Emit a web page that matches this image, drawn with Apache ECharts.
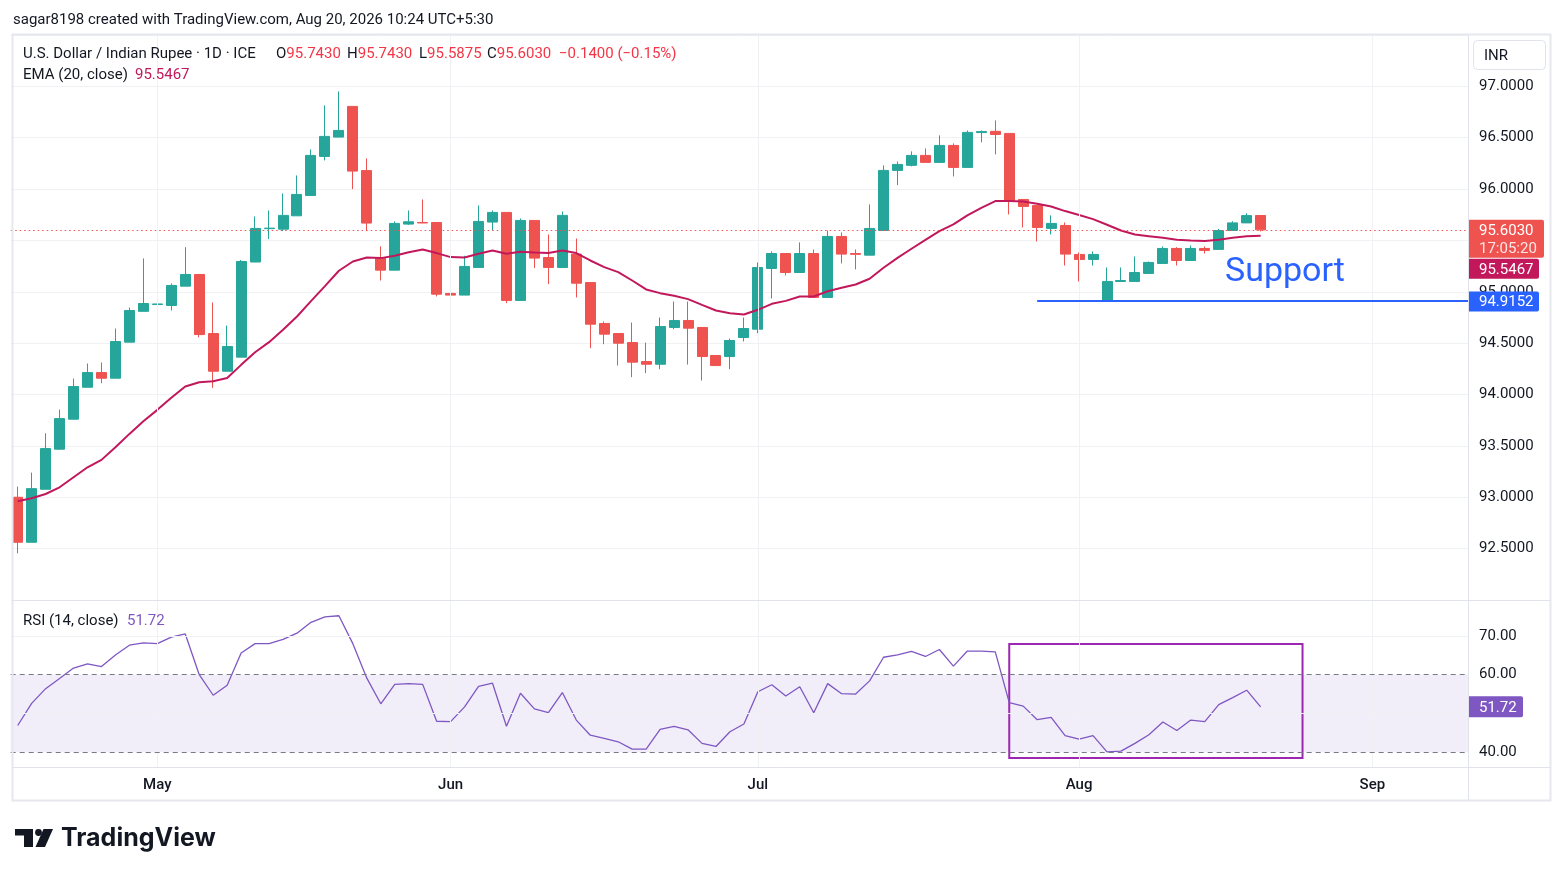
<!DOCTYPE html>
<html><head><meta charset="utf-8">
<script src="https://cdn.jsdelivr.net/npm/echarts@6/dist/echarts.min.js"></script>
<style>html,body{margin:0;padding:0;background:#fff;}#c{width:1563px;height:877px;}</style>
</head><body><div id="c"></div>
<script>
const dates = [
'2026-04-17','2026-04-20','2026-04-21','2026-04-22','2026-04-23','2026-04-24','2026-04-27','2026-04-28','2026-04-29','2026-04-30',
'2026-05-01','2026-05-04','2026-05-05','2026-05-06','2026-05-07','2026-05-08','2026-05-11','2026-05-12','2026-05-13','2026-05-14','2026-05-15','2026-05-18','2026-05-19','2026-05-20','2026-05-21','2026-05-22','2026-05-25','2026-05-26','2026-05-27','2026-05-28','2026-05-29',
'2026-06-01','2026-06-02','2026-06-03','2026-06-04','2026-06-05','2026-06-08','2026-06-09','2026-06-10','2026-06-11','2026-06-12','2026-06-15','2026-06-16','2026-06-17','2026-06-18','2026-06-19','2026-06-22','2026-06-23','2026-06-24','2026-06-25','2026-06-26','2026-06-29','2026-06-30',
'2026-07-01','2026-07-02','2026-07-03','2026-07-06','2026-07-07','2026-07-08','2026-07-09','2026-07-10','2026-07-13','2026-07-14','2026-07-15','2026-07-16','2026-07-17','2026-07-20','2026-07-21','2026-07-22','2026-07-23','2026-07-24','2026-07-27','2026-07-28','2026-07-29','2026-07-30','2026-07-31',
'2026-08-03','2026-08-04','2026-08-05','2026-08-06','2026-08-07','2026-08-10','2026-08-11','2026-08-12','2026-08-13','2026-08-14','2026-08-17','2026-08-18','2026-08-19','2026-08-20',
'2026-08-21','2026-08-24','2026-08-25','2026-08-26','2026-08-27','2026-08-28','2026-08-31',
'2026-09-01','2026-09-02','2026-09-03','2026-09-04','2026-09-07','2026-09-08','2026-09-09','2026-09-10'];

const opens = [93.000,92.562,93.078,93.468,93.760,94.071,94.214,94.159,94.510,94.810,
94.876,94.867,95.055,95.169,94.594,94.227,94.364,95.290,95.615,95.610,
95.740,95.938,96.318,96.506,96.805,96.180,95.334,95.211,95.659,95.675,
95.675,94.984,94.968,95.237,95.679,95.773,94.916,95.695,95.334,95.237,
95.367,95.090,94.692,94.594,94.506,94.321,94.295,94.653,94.721,94.653,
94.380,94.370,94.555,94.636,95.227,95.373,95.188,95.373,94.945,95.539,
95.373,95.357,95.597,96.182,96.231,96.328,96.260,96.425,96.211,96.550,
96.562,96.542,95.899,95.841,95.617,95.646,95.364,95.315,94.915,95.101,
95.101,95.179,95.276,95.422,95.305,95.422,95.413,95.597,95.671,95.743];

const highs = [93.104,93.240,93.623,93.854,94.156,94.302,94.312,94.643,94.847,95.325,
94.896,95.081,95.435,95.169,94.896,94.672,95.310,95.734,95.792,95.958,
96.133,96.386,96.815,96.951,96.805,96.299,95.442,95.685,95.792,95.899,
95.675,95.149,95.351,95.841,95.792,95.773,95.714,95.695,95.558,95.782,
95.519,95.090,94.711,94.594,94.701,94.506,94.750,94.906,94.906,94.653,
94.380,94.545,94.750,95.286,95.393,95.373,95.481,95.412,95.597,95.578,
95.412,95.851,96.231,96.269,96.367,96.396,96.523,96.445,96.571,96.571,
96.669,96.542,95.900,95.841,95.744,95.675,95.383,95.393,95.237,95.237,
95.344,95.295,95.442,95.435,95.451,95.442,95.613,95.687,95.765,95.743];

const lows = [92.455,92.562,93.078,93.460,93.760,94.071,94.110,94.159,94.510,94.810,
94.875,94.818,95.055,94.558,94.065,94.227,94.364,95.290,95.513,95.591,
95.740,95.938,96.279,96.506,96.000,95.591,95.110,95.211,95.650,95.669,
94.955,94.753,94.968,95.237,95.597,94.890,94.916,95.231,95.075,95.237,
94.945,94.451,94.490,94.282,94.169,94.208,94.247,94.636,94.292,94.136,
94.280,94.247,94.516,94.597,94.935,95.159,95.188,94.945,94.945,95.276,
95.218,95.357,95.597,96.039,96.221,96.260,96.260,96.123,96.211,96.455,
96.338,95.753,95.627,95.490,95.558,95.256,95.101,95.256,94.915,95.100,
95.100,95.179,95.276,95.256,95.305,95.373,95.410,95.597,95.671,95.5875];

const closes = [92.562,93.084,93.474,93.766,94.078,94.214,94.159,94.516,94.818,94.886,
94.882,95.062,95.169,94.584,94.227,94.468,95.295,95.617,95.620,95.744,
95.948,96.328,96.513,96.571,96.175,95.669,95.211,95.666,95.682,95.670,
94.977,94.968,95.247,95.685,95.773,94.916,95.695,95.328,95.237,95.744,
95.084,94.685,94.588,94.500,94.315,94.295,94.662,94.721,94.646,94.370,
94.282,94.526,94.643,95.237,95.373,95.188,95.373,94.945,95.539,95.367,
95.365,95.617,96.182,96.240,96.328,96.260,96.425,96.211,96.552,96.560,
96.532,95.890,95.831,95.627,95.666,95.367,95.315,95.364,95.101,95.110,
95.188,95.286,95.422,95.305,95.422,95.403,95.597,95.671,95.742,95.603];

const ema20 = [92.961,92.990,93.032,93.097,93.195,93.292,93.364,93.487,93.617,93.740,
93.851,93.968,94.078,94.120,94.130,94.162,94.289,94.412,94.510,94.630,
94.760,94.909,95.055,95.205,95.295,95.334,95.328,95.351,95.386,95.412,
95.377,95.338,95.334,95.370,95.403,95.370,95.390,95.383,95.377,95.403,
95.377,95.305,95.240,95.192,95.110,95.023,94.987,94.961,94.929,94.873,
94.818,94.792,94.779,94.825,94.883,94.912,94.955,94.955,95.006,95.039,
95.071,95.127,95.234,95.331,95.419,95.506,95.591,95.656,95.744,95.818,
95.883,95.883,95.880,95.857,95.831,95.786,95.747,95.708,95.653,95.597,
95.558,95.542,95.526,95.506,95.500,95.495,95.506,95.526,95.542,95.5467];

const rsi14 = [46.9,52.6,56.4,59.0,61.7,62.8,62.1,65.1,67.6,68.2,
68.0,69.7,70.5,60.0,54.7,57.3,65.6,68.0,68.0,69.1,
70.7,73.5,74.9,75.2,68.0,59.1,52.5,57.5,57.7,57.5,
48.0,47.9,51.7,57.0,57.8,46.7,55.2,51.2,50.2,55.4,
48.3,44.4,43.6,42.7,40.8,40.8,45.9,46.7,45.8,42.3,
41.5,45.3,47.3,55.6,57.4,54.5,56.9,50.2,57.7,55.1,
55.0,58.4,64.5,65.1,66.0,64.7,66.5,62.2,66.1,66.1,
65.9,52.8,51.9,48.4,49.0,44.3,43.4,44.3,40.1,40.3,
42.3,44.5,47.8,45.6,48.3,47.9,52.3,54.1,56.0,51.72];

const monthLabels = {'2026-05-01':'May','2026-06-01':'Jun','2026-07-01':'Jul','2026-08-03':'Aug','2026-09-01':'Sep'};
const priceTicks = {min:92, max:97.5, step:0.5};
const rsiTicks = [40,50,60,70];
const rsiBand = [40,60];
const supportLevel = 94.9152;
const supportFrom = '2026-07-29';
const supportTo = '2026-09-10';
const rsiBox = {from:'2026-07-27', to:'2026-08-25', low:38.5, high:67.9};
const lastClose = 95.6030, lastEma = 95.5467, lastRsi = 51.72;
const countdown = '17:05:20';

const FONT = 'Roboto, "Noto Sans", "DejaVu Sans", sans-serif';
const candleData = opens.map((o,i)=>[o, closes[i], lows[i], highs[i]]);
const monthStarts = Object.keys(monthLabels);

const chart = echarts.init(document.getElementById('c'), null, {renderer:'canvas'});
const GRID_L = 10.7, GRID_R = 1563-1477.1;
const gridLineColor = '#eff1f5';

chart.setOption({
  animation:false,
  backgroundColor:'#ffffff',
  grid:[
    {left:GRID_L, right:GRID_R, top:35, height:565},
    {left:GRID_L, right:GRID_R, top:601, height:166}
  ],
  xAxis:[
    {type:'category', gridIndex:0, data:dates, boundaryGap:true,
     axisLine:{show:false}, axisTick:{show:false}, axisLabel:{show:false}, splitLine:{show:false}},
    {type:'category', gridIndex:1, data:dates, boundaryGap:true,
     axisLine:{show:false}, axisTick:{show:false}, splitLine:{show:false},
     axisLabel:{show:true, interval:(i,v)=>!!monthLabels[v], formatter:v=>monthLabels[v]||'',
       color:'#131722', fontSize:15, fontWeight:500, fontFamily:FONT, margin:11}}
  ],
  yAxis:[
    {type:'value', gridIndex:0, position:'right', min:priceTicks.min, max:priceTicks.max, interval:priceTicks.step,
     axisLine:{show:false}, axisTick:{show:false},
     axisLabel:{formatter:v=>v.toFixed(4), color:'#131722', fontSize:15, fontFamily:FONT, margin:2, padding:[3,0,0,0], showMinLabel:false, showMaxLabel:false},
     splitLine:{show:true, lineStyle:{color:gridLineColor, width:1}}},
    {type:'value', gridIndex:1, position:'right', min:36.2, max:79,
     axisLine:{show:false}, axisTick:{show:false, customValues:rsiTicks},
     axisLabel:{customValues:rsiTicks, formatter:v=>v.toFixed(2), color:'#131722', fontSize:15, fontFamily:FONT, margin:2, padding:[2,0,0,0]},
     splitLine:{show:false}}
  ],
  series:[
    {type:'line', xAxisIndex:0, yAxisIndex:0, data:[], z:1, silent:true,
     markLine:{symbol:'none', silent:true, label:{show:false}, animation:false,
       lineStyle:{color:gridLineColor, width:1, type:'solid'},
       data: monthStarts.map(d=>({xAxis:d}))}},
    {type:'line', xAxisIndex:1, yAxisIndex:1, data:[], z:1, silent:true,
     markLine:{symbol:'none', silent:true, label:{show:false}, animation:false,
       lineStyle:{color:gridLineColor, width:1, type:'solid'},
       data: monthStarts.map(d=>({xAxis:d})).concat([{yAxis:50},{yAxis:70}])},
     markArea:{silent:true, itemStyle:{color:'rgba(126,87,194,0.1)'},
       data:[[{yAxis:rsiBand[0]},{yAxis:rsiBand[1]}]]}},
    {type:'candlestick', name:'USDINR', xAxisIndex:0, yAxisIndex:0, data:candleData, barWidth:10.5, z:3,
     itemStyle:{color:'#26a69a', color0:'#ef5350', borderColor:'#26a69a', borderColor0:'#ef5350', borderWidth:1},
     markLine:{symbol:'none', silent:true, label:{show:false}, animation:false,
       data:[
         {yAxis:lastClose, lineStyle:{color:'#ef5350', width:1, type:[1.5,3]}},
         [{coord:[supportFrom, supportLevel], lineStyle:{color:'#2962ff', width:2, type:'solid'}},
          {coord:[supportTo, supportLevel]}]
       ]}},
    {type:'line', name:'EMA', xAxisIndex:0, yAxisIndex:0, data:ema20, z:4, symbol:'none', showSymbol:false,
     lineStyle:{color:'#c2185b', width:2}},
    {type:'line', name:'RSI', xAxisIndex:1, yAxisIndex:1, data:rsi14, z:4, symbol:'none', showSymbol:false,
     lineStyle:{color:'#7e57c2', width:1.3},
     markLine:{symbol:'none', silent:true, label:{show:false}, animation:false,
       lineStyle:{color:'#787b86', width:1, type:[5,4]},
       data:[{yAxis:rsiBand[0]},{yAxis:rsiBand[1]}]},
     markArea:{silent:true,
       data:[[{xAxis:rsiBox.from, yAxis:rsiBox.low, itemStyle:{color:'rgba(0,0,0,0)', borderColor:'#9c27b0', borderWidth:2}},
              {xAxis:rsiBox.to, yAxis:rsiBox.high}]]}}
  ]
});

const yP = v => chart.convertToPixel({yAxisIndex:0}, v);
const yR = v => chart.convertToPixel({yAxisIndex:1}, v);
const T = (x,y,text,o,z)=>({type:'text', x, y, z:z||120, silent:true,
  style:Object.assign({text, fill:'#131722', fontSize:15, fontFamily:FONT, verticalAlign:'middle', align:'left'}, o||{})});
const L = (x1,y1,x2,y2,c,w)=>({type:'line', z:90, silent:true, shape:{x1,y1,x2,y2}, style:{stroke:c||'#e0e3eb', lineWidth:w||1}});
const R = (x,y,w,h,fill,z,extra)=>({type:'rect', z:z||110, silent:true, shape:Object.assign({x,y,width:w,height:h}, extra||{}), style:{fill}});

const y0 = yP(lastClose), yS = yP(supportLevel), yRs = yR(lastRsi);
const RED = '#f23645';
const g = [];
// mask strip between plot edge and the price scale
g.push(R(1469,30,9,775,'#ffffff',85));
// frame
g.push({type:'rect', z:89, silent:true, shape:{x:12.5, y:34.5, width:1538, height:766}, style:{fill:'none', stroke:'#e6e8ee', lineWidth:2}});
g.push(L(13,600.5,1550,600.5,'#e0e3eb',1));
g.push(L(13,767.5,1550,767.5,'#e0e3eb',1));
g.push(L(1468.5,35,1468.5,800,'#e0e3eb',1));
// header
g.push(T(13,20,'sagar8198 created with TradingView.com, Aug 20, 2026 10:24 UTC+5:30'));
g.push(T(23,54,'U.S. Dollar / Indian Rupee · 1D · ICE'));
g.push({type:'text', x:276, y:54, z:120, silent:true, style:{text:'{n|O}{r|95.7430}', verticalAlign:'middle', align:'left', fontSize:15, fontFamily:FONT,
  rich:{n:{fill:'#131722', fontSize:15, fontFamily:FONT}, r:{fill:RED, fontSize:15, fontFamily:FONT}}}});
g.push({type:'text', x:347, y:54, z:120, silent:true, style:{text:'{n|H}{r|95.7430}', verticalAlign:'middle', align:'left', fontSize:15, fontFamily:FONT,
  rich:{n:{fill:'#131722', fontSize:15, fontFamily:FONT}, r:{fill:RED, fontSize:15, fontFamily:FONT}}}});
g.push({type:'text', x:419, y:54, z:120, silent:true, style:{text:'{n|L}{r|95.5875}', verticalAlign:'middle', align:'left', fontSize:15, fontFamily:FONT,
  rich:{n:{fill:'#131722', fontSize:15, fontFamily:FONT}, r:{fill:RED, fontSize:15, fontFamily:FONT}}}});
g.push({type:'text', x:487, y:54, z:120, silent:true, style:{text:'{n|C}{r|95.6030}', verticalAlign:'middle', align:'left', fontSize:15, fontFamily:FONT,
  rich:{n:{fill:'#131722', fontSize:15, fontFamily:FONT}, r:{fill:RED, fontSize:15, fontFamily:FONT}}}});
g.push(T(559,54,'−0.1400 (−0.15%)',{fill:RED}));
g.push(T(23,75,'EMA (20, close)'));
g.push(T(135,75,lastEma.toFixed(4),{fill:'#c2185b'}));
g.push(T(23,621,'RSI (14, close)'));
g.push(T(127,621,lastRsi.toFixed(2),{fill:'#7e57c2'}));
// INR button
g.push({type:'rect', z:95, silent:true, shape:{x:1473.5, y:40.5, width:72, height:29, r:4}, style:{fill:'#fff', stroke:'#e0e3eb', lineWidth:1}});
g.push(T(1484,56,'INR'));
// Support label
g.push(T(1225,272,'Support',{fontSize:34, fill:'#2962ff'}));
// price boxes
g.push(R(1469,y0-10,75,38,'#ef5350',110,{r:[0,2,2,0]}));
g.push(T(1479,y0+1,lastClose.toFixed(4),{fill:'#ffffff'}));
g.push(T(1479,y0+19,countdown,{fill:'rgba(255,255,255,0.85)'}));
g.push(R(1469,y0+29,70,20,'#c2185b',110,{r:[0,2,2,0]}));
g.push(T(1479,y0+40,lastEma.toFixed(4),{fill:'#ffffff'}));
g.push(R(1469,yS-9,70,20,'#2962ff',110,{r:[0,2,2,0]}));
g.push(T(1479,yS+2,supportLevel.toFixed(4),{fill:'#ffffff'}));
g.push(R(1469,yRs-10.5,54,21,'#7e57c2',110,{r:[0,2,2,0]}));
g.push(T(1479,yRs+1,lastRsi.toFixed(2),{fill:'#ffffff'}));
// logo
g.push(R(15,829,18,6.5,'#131722',100));
g.push(R(24,829,9,18,'#131722',100));
g.push({type:'circle', z:100, silent:true, shape:{cx:38.5, cy:832.5, r:3.4}, style:{fill:'#131722'}});
g.push({type:'polygon', z:100, silent:true, shape:{points:[[43.5,829],[53,829],[45,847],[35.5,847]]}, style:{fill:'#131722'}});
g.push(T(61,838,'TradingView',{fontSize:25, fontWeight:700, fontFamily:'Inter, Roboto, sans-serif'}));

chart.setOption({graphic:{elements:g}});
</script></body></html>
